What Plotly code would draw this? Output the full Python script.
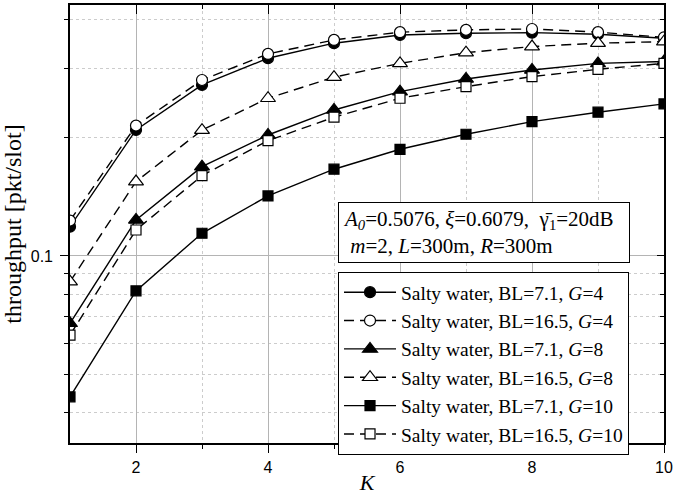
import plotly.graph_objects as go

K = [1, 2, 3, 4, 5, 6, 7, 8, 9, 10]
g4_bl71 = [0.1187, 0.2092, 0.2723, 0.3185, 0.3478, 0.365, 0.3687, 0.370, 0.3666, 0.358]
g4_bl165 = [0.1230, 0.2146, 0.2803, 0.3266, 0.3545, 0.371, 0.376, 0.378, 0.371, 0.360]
g8_bl71 = [0.0674, 0.1235, 0.1687, 0.2031, 0.2352, 0.2618, 0.2820, 0.2973, 0.309, 0.3123]
g8_bl165 = [0.086, 0.1546, 0.209, 0.2519, 0.285, 0.309, 0.329, 0.341, 0.3478, 0.351]
g10_bl71 = [0.0438, 0.0815, 0.1142, 0.1421, 0.1662, 0.1868, 0.2040, 0.2196, 0.2321, 0.2437]
g10_bl165 = [0.0629, 0.1164, 0.160, 0.1965, 0.2254, 0.2519, 0.2697, 0.286, 0.2985, 0.309]

names = [
    "Salty water, BL=7.1, <i>G</i>=4",
    "Salty water, BL=16.5, <i>G</i>=4",
    "Salty water, BL=7.1, <i>G</i>=8",
    "Salty water, BL=16.5, <i>G</i>=8",
    "Salty water, BL=7.1, <i>G</i>=10",
    "Salty water, BL=16.5, <i>G</i>=10",
]
series = [g4_bl71, g4_bl165, g8_bl71, g8_bl165, g10_bl71, g10_bl165]
symbols = ["circle", "circle", "triangle-up", "triangle-up", "square", "square"]
sizes = [11, 11, 13, 13, 10, 10]
filled = [True, False, True, False, True, False]

x_major = [2, 4, 6, 8, 10]
x_minor = [3, 5, 7, 9]
y_major = [0.1]
y_major_text = ["0.1"]
y_minor = [0.04, 0.05, 0.06, 0.07, 0.08, 0.09, 0.2, 0.3, 0.4]

serif = "Liberation Serif, Times New Roman, serif"
sans = "Liberation Sans, Arial, sans-serif"

fig = go.Figure()
for ys, nm, sym, sz, fl in zip(series, names, symbols, sizes, filled):
    fig.add_trace(go.Scatter(
        x=K, y=ys, name=nm, mode="lines+markers",
        line=dict(color="black", width=1.4, dash="solid" if fl else "10px,6px"),
        marker=dict(symbol=sym, size=sz, color="black" if fl else "white",
                    line=dict(color="black", width=1.2)),
    ))

fig.add_trace(go.Scatter(x=[None], y=[None], xaxis="x2", yaxis="y2",
                         showlegend=False, hoverinfo="skip"))

yrange = [-1.476, -0.3615]

fig.update_layout(
    width=674, height=497,
    margin=dict(l=70, r=10, t=5, b=54),
    plot_bgcolor="white", paper_bgcolor="white",
    showlegend=True,
    xaxis=dict(
        range=[1, 10], tickmode="array", tickvals=x_major, automargin=False,
        ticks="outside", ticklen=8, tickwidth=1.3, tickcolor="black",
        showline=True, linecolor="black", linewidth=1.6, mirror=True,
        showgrid=True, gridcolor="#b4b4b4", gridwidth=1,
        tickfont=dict(family=sans, size=16, color="black"),
        ticklabelstandoff=1,
        minor=dict(tickmode="array", tickvals=x_minor, ticks="outside", ticklen=4,
                   tickcolor="black", tickwidth=1.2, showgrid=True,
                   gridcolor="#cccccc", griddash="dot", gridwidth=1),
        title=dict(text="<i>K</i>", font=dict(family=serif, size=22, color="black"),
                   standoff=0),
        zeroline=False,
    ),
    yaxis=dict(
        type="log", range=yrange, tickmode="array", tickvals=y_major, ticktext=y_major_text,
        automargin=False,
        ticks="outside", ticklen=8, tickwidth=1.3, tickcolor="black",
        showline=True, linecolor="black", linewidth=1.6, mirror=True,
        showgrid=True, gridcolor="#b4b4b4", gridwidth=1,
        tickfont=dict(family=sans, size=16, color="black"),
        ticklabelstandoff=4,
        minor=dict(tickmode="array", tickvals=y_minor, ticks="outside", ticklen=4,
                   tickcolor="black", tickwidth=1.2, showgrid=True,
                   gridcolor="#cccccc", griddash="dot", gridwidth=1),
        title=dict(text="throughput [pkt/slot]", font=dict(family=serif, size=24, color="black"),
                   standoff=2),
        zeroline=False,
    ),
    xaxis2=dict(
        overlaying="x", side="top", anchor="y2", range=[1, 10], tickmode="array", tickvals=x_major,
        automargin=False,
        ticks="inside", ticklen=9, tickwidth=1.3, tickcolor="black", showticklabels=False,
        showgrid=False, showline=False, zeroline=False,
        minor=dict(tickmode="array", tickvals=x_minor, ticks="inside", ticklen=4,
                   tickcolor="black", tickwidth=1.2, showgrid=False),
    ),
    yaxis2=dict(
        overlaying="y", side="right", anchor="x2", type="log", range=yrange, tickmode="array",
        automargin=False,
        tickvals=y_major, ticks="inside", ticklen=7, tickwidth=1.3, tickcolor="black",
        showticklabels=False, showgrid=False, showline=False, zeroline=False,
        minor=dict(tickmode="array", tickvals=y_minor, ticks="inside", ticklen=4,
                   tickcolor="black", tickwidth=1.2, showgrid=False),
    ),
    legend=dict(
        x=0.4512, y=0.3904, xanchor="left", yanchor="top",
        bgcolor="white", bordercolor="black", borderwidth=1,
        font=dict(family=serif, size=19.5, color="black"),
        itemwidth=52, tracegroupgap=0,
    ),
    annotations=[dict(
        xref="paper", yref="paper", x=0.4512, y=0.550, xanchor="left", yanchor="top",
        text="<i>A</i><sub><i>0</i></sub>=0.5076, <i>ξ</i>=0.6079,  γ̄<sub>1</sub>=20dB<br> <i>m</i>=2, <i>L</i>=300m, <i>R</i>=300m",
        align="left", showarrow=False, bgcolor="white", bordercolor="black", borderwidth=1,
        borderpad=4, width=282, font=dict(family=serif, size=21, color="black"),
    )],
)

fig.write_html("out.html", config={"displayModeBar": False},
               post_script="document.body.style.margin='0';document.body.style.overflow='hidden';")
